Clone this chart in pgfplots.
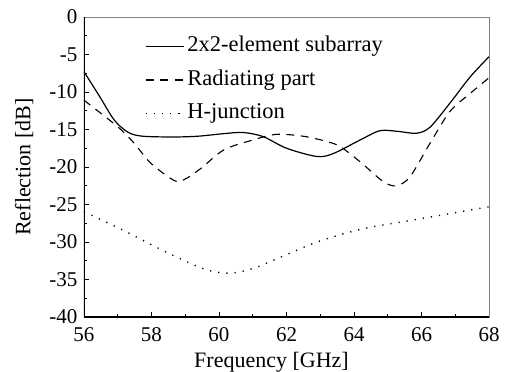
\documentclass[border=0pt]{standalone}
\usepackage{fontspec}
\setmainfont{Liberation Serif}
\usepackage{pgfplots}
\pgfplotsset{compat=1.18}
\newcommand{\tkf}{\fontsize{21}{25}\selectfont}
\newcommand{\lgf}{\fontsize{22.5}{27}\selectfont}
\begin{document}
\begin{tikzpicture}[x=1pt,y=1pt]
\path[use as bounding box] (-84,-55) rectangle (425,317);
\begin{axis}[
  at={(0pt,0pt)}, anchor=south west,
  scale only axis, width=405pt, height=300pt,
  xmin=56, xmax=68, ymin=-40, ymax=0,
  xtick={56,58,...,68}, ytick={-40,-35,...,0},
  xticklabels={{\tkf 56},{\tkf 58},{\tkf 60},{\tkf 62},{\tkf 64},{\tkf 66},{\tkf 68}},
  yticklabels={{\tkf -40},{\tkf -35},{\tkf -30},{\tkf -25},{\tkf -20},{\tkf -15},{\tkf -10},{\tkf -5},{\tkf 0}},
  minor xtick={57,59,...,67}, minor ytick={-37.5,-32.5,...,-2.5},
  tick pos=left, tick align=inside,
  major tick length=5pt, minor tick length=3.5pt,
  every tick/.style={black, line width=0.8pt},
  axis line style={gray, line width=0.8pt},
  xticklabel style={yshift=-7pt},
  yticklabel style={xshift=-3pt},
  xlabel={\fontsize{22}{26}\selectfont Frequency [GHz]},
  ylabel={\fontsize{22}{26}\selectfont Reflection [dB]},
  xlabel style={at={(axis description cs:0.5,0)}, anchor=base, yshift=-50pt, xshift=-15pt},
  ylabel style={at={(axis description cs:-0.148,0.5)}, anchor=center},
  legend style={at={(61pt,281pt)}, anchor=north west, draw=none, fill=none,
    inner sep=0pt, outer sep=0pt,
    nodes={inner sep=0pt, text height=16pt, text depth=5pt},
    row sep=12.5pt, /tikz/every odd column/.append style={column sep=3pt}},
  legend cell align=left,
  legend image code/.code={\draw[#1] (0pt,0pt) -- (38pt,0pt);},
]
\draw[black, line width=1.2pt] (rel axis cs:0,1) -- (rel axis cs:0,0) -- (rel axis cs:1,0);
\addplot[black, line width=1.2pt, smooth, tension=0.5] coordinates {
(56,-7.3) (56.45,-10.5) (56.89,-13.7) (57.28,-15.3) (57.68,-15.87) (58.57,-16.0)
(59.36,-15.9) (60.15,-15.55) (60.72,-15.4) (61.31,-15.95) (62.0,-17.5)
(62.9,-18.6) (63.39,-18.2) (64.18,-16.4) (64.77,-15.16) (65.3,-15.25) (65.85,-15.5)
(66.25,-14.7) (66.84,-11.5) (67.44,-8.0) (68,-5.3)};
\addlegendentry{\lgf 2x2-element subarray}
\addplot[black, line width=1.1pt, dash pattern=on 8pt off 6.5pt, smooth, tension=0.5] coordinates {
(56,-11.1) (56.99,-14.6) (57.48,-16.8) (57.98,-19.5) (58.67,-21.8) (58.96,-21.7)
(59.46,-20.2) (60.15,-17.7) (61.0,-16.4) (61.7,-15.65) (62.5,-15.9) (63.19,-16.6)
(63.6,-17.3) (64.18,-19.3) (64.87,-21.96) (65.26,-22.5) (65.66,-21.3)
(66.25,-16.85) (66.84,-12.6) (67.44,-10.2) (68,-8.1)};
\addlegendentry{\lgf Radiating part}
\addplot[black, line width=1.4pt, dash pattern=on 1.2pt off 7pt, smooth, tension=0.5] coordinates {
(56,-25.96) (57.19,-28.5) (58.37,-31.2) (59.56,-33.6) (60.33,-34.15) (61.09,-33.4)
(62.04,-31.6) (63.03,-29.8) (64.3,-28.2) (65.58,-27.2) (66.86,-26.2) (68,-25.3)};
\addlegendentry{\lgf H-junction}
\end{axis}
\end{tikzpicture}
\end{document}
